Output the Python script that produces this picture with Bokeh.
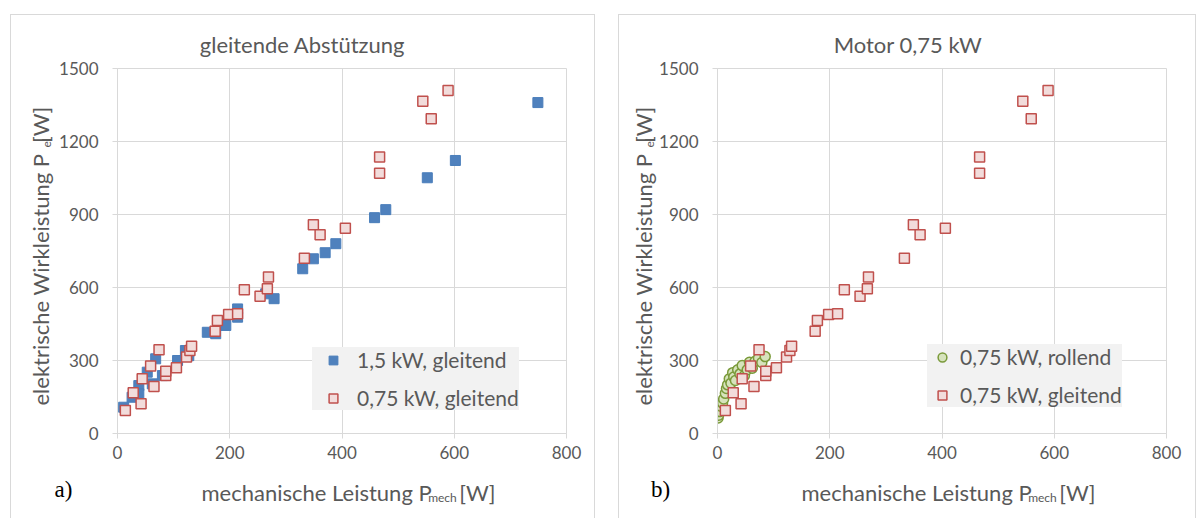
import math
from bokeh.plotting import figure
from bokeh.layouts import row
from bokeh.models import Label, Legend, LegendItem, Range1d, FixedTicker
from bokeh.embed import file_html
from bokeh.resources import INLINE

# ---------------- data ----------------
# 1,5 kW, gleitend
blue_x = [11, 26, 38, 38, 53, 62, 68, 80, 107, 121, 127, 160, 175, 193, 214, 214,
          264, 279, 330, 349, 370, 389, 458, 478, 552, 602, 749]
blue_y = [108, 149, 197, 163, 252, 204, 307, 238, 300, 341, 320, 416, 410, 444, 512, 478,
          574, 554, 677, 718, 743, 780, 887, 920, 1051, 1122, 1360]

# 0,75 kW, gleitend
red_x = [14, 28, 42, 44, 59, 65, 74, 86, 86, 105, 123, 129, 132, 174, 178, 198, 214,
         226, 254, 267, 269, 333, 349, 361, 406, 467, 467, 544, 559, 589]
red_y = [95, 167, 122, 225, 277, 193, 344, 238, 256, 270, 314, 341, 359, 420, 464, 489, 492,
         591, 564, 595, 643, 720, 858, 817, 844, 1136, 1070, 1365, 1293, 1410]

# 0,75 kW, rollend
green_x = [1, 2, 4, 6, 9, 11, 14, 16, 18, 21, 24, 27, 29, 32, 36, 40, 44, 48, 53, 57,
           62, 67, 73, 79, 85]
green_y = [64, 75, 90, 112, 125, 142, 165, 185, 200, 225, 207, 250, 232, 218, 262, 245,
           279, 238, 262, 293, 268, 297, 310, 292, 316]

x_ticks = [0, 200, 400, 600, 800]
y_ticks = [0, 300, 600, 900, 1200, 1500]

titles = ["gleitende Abstützung", "Motor 0,75 kW"]
panel_tags = ["a)", "b)"]
legend_labels_a = ["1,5 kW, gleitend", "0,75 kW, gleitend"]
legend_labels_b = ["0,75 kW, rollend", "0,75 kW, gleitend"]
EN = "\u2002"
x_title = "mechanische Leistung P" + EN * 2 + " [W]"
x_sub = "mech"
y_title = "elektrische Wirkleistung P" + EN + "[W]"
y_sub = "el"

GRID = "#d9d9d9"
TXT = "#595959"
FONT = "Lato"


def lab(p, side, **kw):
    base = dict(text_font=FONT, text_color=TXT, text_baseline="middle")
    base.update(kw)
    p.add_layout(Label(**base), side)


def make_fig(width, left, right, title, title_x, ylab_x, tag, tag_x):
    p = figure(width=width, height=504, x_range=Range1d(0, 800), y_range=Range1d(0, 1500),
               output_backend="svg", toolbar_location=None, title=None,
               min_border_left=left, min_border_right=right,
               min_border_top=53, min_border_bottom=86)
    p.outline_line_color = GRID
    p.background_fill_color = "white"
    p.border_fill_color = "white"
    p.styles = {"border-top": "1px solid #d9d9d9", "border-left": "1px solid #d9d9d9",
                "border-right": "1px solid #d9d9d9"}
    for ax, t in ((p.xaxis, x_ticks), (p.yaxis, y_ticks)):
        ax.ticker = FixedTicker(ticks=t)
        ax.axis_line_color = GRID
        ax.major_tick_line_color = GRID
        ax.major_tick_out = 5
        ax.major_tick_in = 0
        ax.minor_tick_line_color = None
        ax.major_label_text_font = FONT
        ax.major_label_text_font_size = "17px"
        ax.major_label_text_color = TXT
    p.xaxis.major_label_standoff = 7
    p.yaxis.major_label_standoff = 14
    p.xgrid.grid_line_color = GRID
    p.ygrid.grid_line_color = GRID
    p.xgrid.ticker = FixedTicker(ticks=x_ticks)
    p.ygrid.ticker = FixedTicker(ticks=y_ticks)

    # title (above) + x subscript (above panel, drawn at its data position)
    lab(p, "above", x=title_x, y=1599, text=title, text_align="center",
        text_font_size="22px")
    lab(p, "above", x=553.5, y=-263, text=x_sub, text_align="left", text_font_size="12px")
    # x axis title and panel tag (below)
    lab(p, "below", x=149.7, y=-242.5, text=x_title, text_align="left",
        text_font_size="22px")
    lab(p, "below", x=tag_x, y=-230, text=tag, text_align="center",
        text_font="Liberation Serif", text_font_size="23px", text_color="black")
    # y axis title (left) + subscript (right panel)
    lab(p, "left", x=ylab_x, y=115, text=y_title, angle=math.pi / 2,
        text_align="left", text_font_size="22px")
    lab(p, "right", x=ylab_x + 10.7, y=1175, text=y_sub, angle=math.pi / 2,
        text_align="left", text_font_size="12px")
    return p


def legend(items, loc, gw):
    return Legend(items=items, location=loc, background_fill_color="#f2f2f2",
                  background_fill_alpha=1, border_line_color=None, padding=8, spacing=13,
                  glyph_width=gw, glyph_height=22, label_height=22, label_standoff=3,
                  label_text_font=FONT, label_text_font_size="21px",
                  label_text_color=TXT, margin=0)


# ---------------- panel a ----------------
pa = make_fig(585, 106, 30, titles[0], 329.6, -137.2, panel_tags[0], -96.2)
pa.margin = (14, 0, 0, 10)
rb = pa.scatter(blue_x, blue_y, marker="square", size=10, fill_color="#4f81bd",
                line_color="#4a7ebb", line_width=1)
rr = pa.scatter(red_x, red_y, marker="square", size=10, fill_color="#f2dcdb",
                line_color="#c0504d", line_width=1.5)
pa.add_layout(legend([LegendItem(label=legend_labels_a[0], renderers=[rb]),
                      LegendItem(label=legend_labels_a[1], renderers=[rr])], (195, 23), 42))

# ---------------- panel b ----------------
pb = make_fig(578, 98, 31, titles[1], 339.4, -131.8, panel_tags[1], -101.6)
pb.margin = (14, 0, 0, 23)
rg = pb.scatter(green_x, green_y, marker="circle", size=10, fill_color="#d6e3bc",
                line_color="#7a9a3a", line_width=1.5)
rr2 = pb.scatter(red_x, red_y, marker="square", size=10, fill_color="#f2dcdb",
                 line_color="#c0504d", line_width=1.5)
pb.add_layout(legend([LegendItem(label=legend_labels_b[0], renderers=[rg]),
                      LegendItem(label=legend_labels_b[1], renderers=[rr2])], (210, 26), 30))

layout = row(pa, pb)
layout.margin = 0
open("out.html", "w").write(file_html(layout, INLINE))
